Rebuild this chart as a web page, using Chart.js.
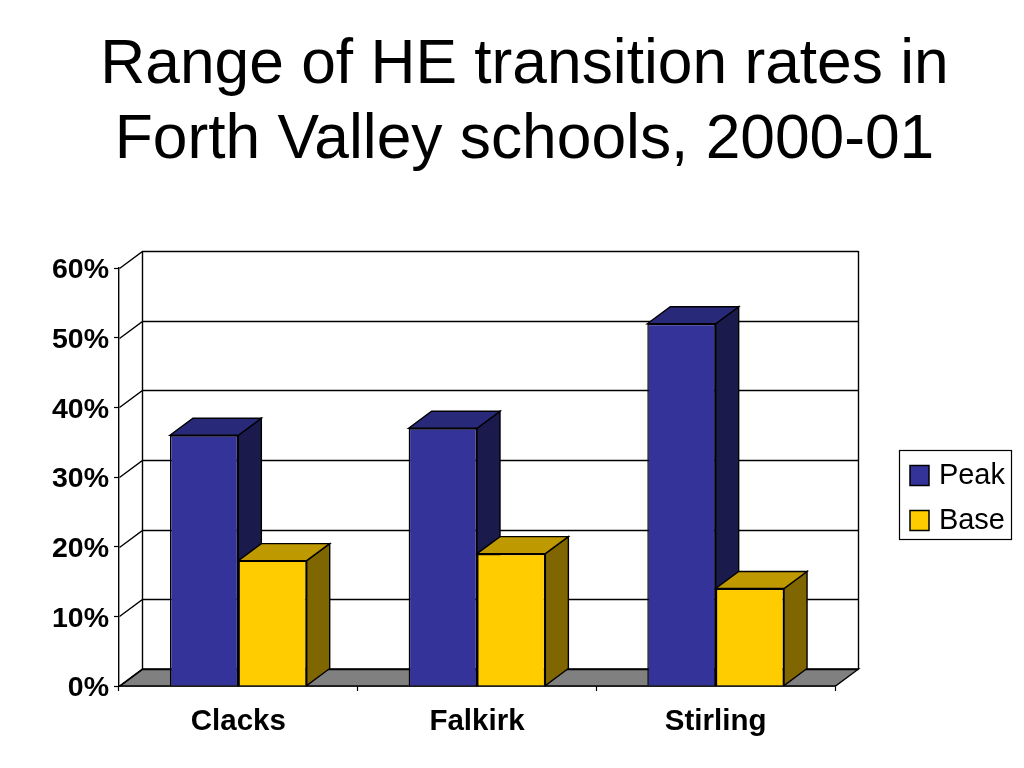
<!DOCTYPE html>
<html>
<head>
<meta charset="utf-8">
<style>html,body{margin:0;padding:0;background:#fff;overflow:hidden}canvas{display:block}</style>
<script src="https://cdn.jsdelivr.net/npm/chart.js@4"></script>
</head>
<body>
<canvas id="c" width="1024" height="768" style="width:1024px;height:768px"></canvas>
<script>
const titleLines = ["Range of HE transition rates in", "Forth Valley schools, 2000-01"];
const categories = ["Clacks", "Falkirk", "Stirling"];
const peakValues = [36, 37, 52];
const baseValues = [18, 19, 14];
const yTicks = [0, 10, 20, 30, 40, 50, 60];

const DX = 23, DY = -17;
const FONT = "'Liberation Sans', Arial, sans-serif";
const faces = [
  {top: "#29297a", side: "#1a1a4d"},
  {top: "#bf9900", side: "#806600"}
];

function poly(ctx, pts, fill) {
  ctx.beginPath();
  pts.forEach((p, i) => i ? ctx.lineTo(p[0], p[1]) : ctx.moveTo(p[0], p[1]));
  ctx.closePath();
  if (fill) { ctx.fillStyle = fill; ctx.fill(); }
  ctx.stroke();
}

const box3d = {
  id: "box3d",
  beforeDraw(chart) {
    const t = chart.titleBlock;
    t.left = 0; t.right = 1049; t.width = 1049;
    const l = chart.legend;
    l.left = 894; l.right = 1005; l.top = 445; l.bottom = 581;
    l.width = 111; l.height = 136;
    const ctx = chart.ctx;
    ctx.save();
    ctx.strokeStyle = "#000"; ctx.lineWidth = 1.2; ctx.fillStyle = "#fff";
    ctx.fillRect(899.5, 450.5, 112, 89);
    ctx.strokeRect(899.5, 450.5, 112, 89);
    ctx.restore();
  },
  beforeDatasetsDraw(chart) {
    const ctx = chart.ctx, a = chart.chartArea, ys = chart.scales.y;
    const L = Math.round(a.left) + 0.5, R = Math.round(a.right) + 0.5;
    ctx.save();
    ctx.strokeStyle = "#000";
    ctx.lineWidth = 1.4;
    // floor
    poly(ctx, [[L, a.bottom], [R, a.bottom], [R + DX, a.bottom + DY], [L + DX, a.bottom + DY]], "#808080");
    // walls and grid
    ctx.beginPath();
    ctx.moveTo(L + DX, a.bottom + DY);
    ctx.lineTo(L + DX, a.top + DY);
    ctx.moveTo(R + DX, a.bottom + DY);
    ctx.lineTo(R + DX, a.top + DY);
    ys.ticks.forEach(tk => {
      const y = Math.round(ys.getPixelForValue(tk.value)) + 0.5;
      ctx.moveTo(L, y);
      ctx.lineTo(L + DX, y + DY);
      ctx.lineTo(R + DX, y + DY);
    });
    ctx.stroke();
    // bar depth faces
    chart.data.datasets.forEach((ds, i) => {
      chart.getDatasetMeta(i).data.forEach(b => {
        const x0 = b.x - b.width / 2, x1 = b.x + b.width / 2;
        poly(ctx, [[x1, b.y], [x1, b.base], [x1 + DX, b.base + DY], [x1 + DX, b.y + DY]], faces[i].side);
        poly(ctx, [[x0, b.y], [x1, b.y], [x1 + DX, b.y + DY], [x0 + DX, b.y + DY]], faces[i].top);
      });
    });
    ctx.restore();
  }
};

new Chart(document.getElementById("c"), {
  type: "bar",
  data: {
    labels: categories,
    datasets: [
      {label: "Peak", data: peakValues, backgroundColor: "#333399", borderColor: "#000", borderWidth: 1.5},
      {label: "Base", data: baseValues, backgroundColor: "#ffcc00", borderColor: "#000", borderWidth: 1.5}
    ]
  },
  options: {
    responsive: false,
    animation: false,
    devicePixelRatio: 1,
    layout: {padding: {left: 0, right: 189, top: 0, bottom: 0}},
    datasets: {bar: {barPercentage: 1, categoryPercentage: 0.573}},
    plugins: {
      tooltip: {enabled: false},
      title: {
        display: true,
        text: titleLines,
        color: "#000",
        font: {family: FONT, size: 62.3, weight: "normal", lineHeight: 1.204},
        padding: {top: 28, bottom: 90}
      },
      legend: {
        position: "chartArea",
        align: "start",
        labels: {
          color: "#000",
          font: {family: FONT, size: 29},
          boxWidth: 19,
          boxHeight: 20,
          padding: 16,
          textAlign: "right"
        }
      }
    },
    scales: {
      x: {
        afterFit(s) { s.height = 82; },
        grid: {drawOnChartArea: false, offset: true, tickLength: 5, tickColor: "#000", tickWidth: 1.2},
        border: {color: "#000", width: 1.4},
        ticks: {color: "#000", padding: 13, maxRotation: 0, font: {family: FONT, size: 29.5, weight: "bold"}}
      },
      y: {
        min: 0, max: 60,
        afterFit(s) { s.width = 119; },
        afterBuildTicks(s) { s.ticks = yTicks.map(v => ({value: v})); },
        grid: {drawOnChartArea: false, tickLength: 5, tickColor: "#000", tickWidth: 1.2},
        border: {color: "#000", width: 1.4},
        ticks: {color: "#000", padding: 5, labelOffset: 2.5, callback: v => v + "%", font: {family: FONT, size: 28.5, weight: "bold"}}
      }
    }
  },
  plugins: [box3d]
});
</script>
</body>
</html>
